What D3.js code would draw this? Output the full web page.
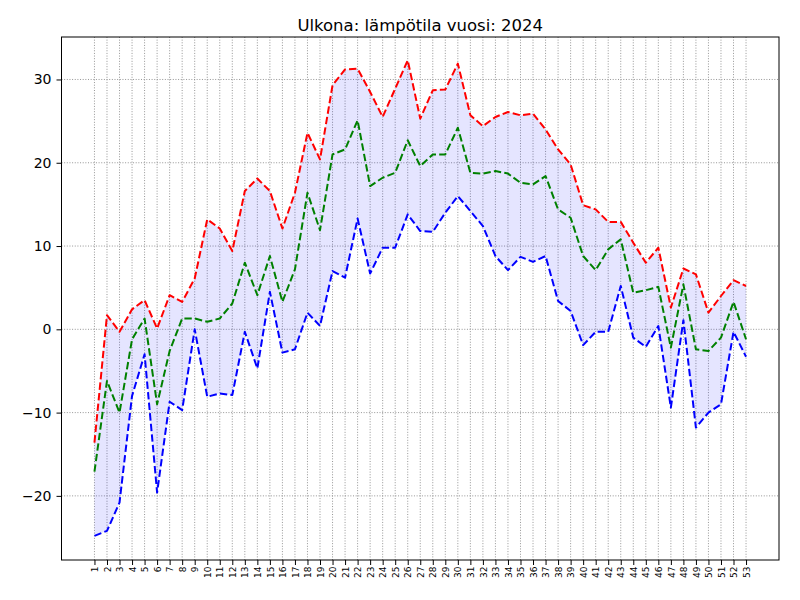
<!DOCTYPE html>
<html>
<head>
<meta charset="utf-8">
<script src="https://cdn.jsdelivr.net/npm/d3@7"></script>
<style>
  html, body { margin: 0; padding: 0; background: #fff; }
  svg { display: block; font-family: "DejaVu Sans", sans-serif; }
</style>
</head>
<body>
<svg id="chart" width="800" height="600"></svg>
<script>
const title = "Ulkona: lämpötila vuosi: 2024";
const weeks = d3.range(1, 54);
const maxTemp = [-13.6, 1.7, -0.3, 2.4, 3.5, 0.1, 4.1, 3.3, 6.1, 13.2,
  12.1, 9.4, 16.6, 18.1, 16.6, 12.1, 16.4, 23.6, 20.4, 29.3,
  31.2, 31.3, 28.5, 25.5, 28.9, 32.3, 25.3, 28.7, 28.8, 31.9,
  25.7, 24.4, 25.5, 26.1, 25.7, 25.9, 24.0, 21.6, 19.8, 14.9,
  14.4, 12.9, 12.9, 10.4, 8.0, 9.8, 2.6, 7.3, 6.6, 2.0,
  4.0, 5.9, 5.2];
const avgTemp = [-17.1, -6.2, -10.0, -1.2, 1.3, -9.0, -2.6, 1.3, 1.3, 0.9,
  1.3, 3.1, 8.0, 4.1, 8.8, 3.3, 7.2, 16.4, 11.9, 21.0,
  21.6, 25.1, 17.2, 18.2, 18.8, 22.7, 19.6, 21.0, 21.0, 24.2,
  18.8, 18.7, 19.0, 18.7, 17.6, 17.4, 18.4, 14.4, 13.4, 8.8,
  7.1, 9.6, 10.8, 4.4, 4.7, 5.1, -2.2, 5.4, -2.4, -2.6,
  -1.0, 3.3, -1.2];
const minTemp = [-24.8, -24.2, -20.8, -8.0, -3.0, -19.6, -8.7, -9.7, 0.0, -8.1,
  -7.7, -7.9, -0.3, -4.7, 4.5, -2.8, -2.4, 2.0, 0.4, 7.0,
  6.2, 13.3, 6.7, 9.8, 9.8, 13.8, 11.8, 11.7, 14.0, 16.0,
  14.2, 12.4, 8.8, 7.1, 8.7, 8.1, 8.8, 3.4, 2.2, -1.9,
  -0.3, -0.3, 5.2, -1.0, -2.1, 0.4, -9.4, 1.1, -11.8, -10.0,
  -9.0, -0.3, -3.3];
const yTicks = [-20, -10, 0, 10, 20, 30];

const svg = d3.select("#chart");
const m = { left: 61.5, right: 779, top: 37, bottom: 560 };

const x = d3.scaleLinear().domain([-1.63, 55.63]).range([m.left, m.right]);
const y = d3.scaleLinear().domain([-27.7, 35.1]).range([m.bottom, m.top]);

// grid
const grid = svg.append("g");
grid.selectAll("line.vx").data(weeks).enter().append("line")
  .attr("x1", d => x(d)).attr("x2", d => x(d))
  .attr("y1", m.top).attr("y2", m.bottom)
  .attr("stroke", "#8a8a8a").attr("stroke-width", 0.9)
  .attr("stroke-dasharray", "1,1.65");
grid.selectAll("line.hy").data(yTicks).enter().append("line")
  .attr("x1", m.left).attr("x2", m.right)
  .attr("y1", d => y(d)).attr("y2", d => y(d))
  .attr("stroke", "#8a8a8a").attr("stroke-width", 0.9)
  .attr("stroke-dasharray", "1,1.65");

// fill between min and max
const rows = weeks.map((w, i) => ({ w, max: maxTemp[i], avg: avgTemp[i], min: minTemp[i] }));
const area = d3.area().x(d => x(d.w)).y0(d => y(d.min)).y1(d => y(d.max));
svg.append("path").datum(rows).attr("d", area)
  .attr("fill", "#0000ff").attr("fill-opacity", 0.1);

// lines
const series = [
  { key: "max", color: "#ff0000" },
  { key: "avg", color: "#008000" },
  { key: "min", color: "#0000ff" }
];
series.forEach(s => {
  const line = d3.line().x(d => x(d.w)).y(d => y(d[s.key]));
  svg.append("path").datum(rows).attr("d", line)
    .attr("fill", "none").attr("stroke", s.color)
    .attr("stroke-width", 2).attr("stroke-dasharray", "7.4,3.2")
    .attr("stroke-linejoin", "round");
});

// axes
const xAxis = d3.axisBottom(x).tickValues(weeks).tickFormat(d3.format("d")).tickSize(5).tickSizeOuter(0);
const gx = svg.append("g").attr("transform", `translate(0,${m.bottom})`).call(xAxis);
gx.select(".domain").remove();
gx.selectAll("text")
  .attr("font-size", 9).attr("font-family", "DejaVu Sans")
  .attr("fill", "#000")
  .attr("transform", "rotate(-90)")
  .attr("x", -6.5).attr("y", 0).attr("dy", "0.35em")
  .attr("text-anchor", "end");
gx.selectAll("line").attr("stroke", "#000");

const yAxis = d3.axisLeft(y).tickValues(yTicks).tickFormat(d => d < 0 ? "\u2212" + Math.abs(d) : d).tickSize(5).tickSizeOuter(0);
const gy = svg.append("g").attr("transform", `translate(${m.left},0)`).call(yAxis);
gy.select(".domain").remove();
gy.selectAll("text").attr("font-size", 14).attr("font-family", "DejaVu Sans").attr("fill", "#000").attr("x", -10);
gy.selectAll("line").attr("stroke", "#000");

// frame
svg.append("rect").attr("x", m.left).attr("y", m.top)
  .attr("width", m.right - m.left).attr("height", m.bottom - m.top)
  .attr("fill", "none").attr("stroke", "#000").attr("stroke-width", 1);

// title
svg.append("text").attr("x", (m.left + m.right) / 2).attr("y", 31)
  .attr("text-anchor", "middle").attr("font-size", 16.5).attr("fill", "#000")
  .text(title);
</script>
</body>
</html>
